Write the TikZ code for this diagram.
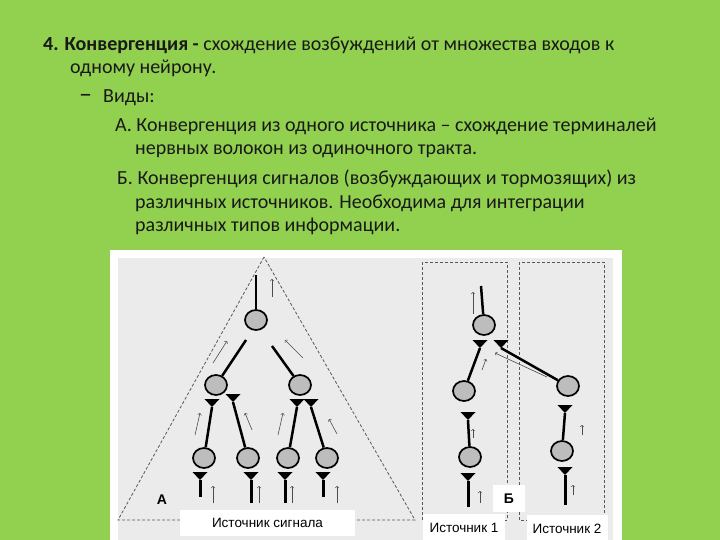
\documentclass[tikz,border=0pt]{standalone}
\usepackage{fontspec}
\setmainfont{Carlito}
\newfontfamily\labelfont{Liberation Sans}
\usepackage{tikz}
\usetikzlibrary{arrows,shapes.geometric}
\definecolor{slidegreen}{HTML}{92D050}
\definecolor{panelgray}{HTML}{EBEBEB}
\definecolor{cellgray}{HTML}{BDBDBD}
\tikzset{
  neuron/.style={ellipse, draw, line width=1.7pt, fill=cellgray, minimum width=22pt, minimum height=20pt, inner sep=0pt},
  fibre/.style={line width=2.5pt},
  stalk/.style={line width=3pt},
  sig/.style={->, line width=0.6pt, draw=black!70},
  zone/.style={densely dashed, line width=0.8pt, draw=black!65},
  src/.style={fill=white, font=\labelfont\fontsize{13.5}{15}\selectfont, inner sep=0pt},
  txt/.style={anchor=base west, inner sep=0pt, text=black!90, font=\fontsize{20}{24}\selectfont}
}
% terminal: apex at #2, base 8pt above
\newcommand{\synapse}[2]{\coordinate (#1) at (#2);
  \fill (#1) ++(-7.5,-8) -- ++(15,0) -- (#1) -- cycle;}

\begin{document}
\begin{tikzpicture}[x=1pt, y=-1pt]
		\fill[slidegreen] (0,0) rectangle (720,540);
		\useasboundingbox (0,0) rectangle (720,540);
		% slide text
		\node[txt](t1) at (43,51){\textbf{4. Конвергенция -} схождение возбуждений от множества входов к};
		\node[txt](t2) at (70,74){одному нейрону.};
		\node[txt, font=\fontsize{26}{24}\selectfont](t3) at (79,103){–};
		\node[txt](t4) at (103,103){Виды:};
		\node[txt](t5) at (115,132){А. Конвергенция из одного источника – схождение терминалей};
		\node[txt](t6) at (135,155){нервных волокон из одиночного тракта.};
		\node[txt](t7) at (117,185){Б. Конвергенция сигналов (возбуждающих и тормозящих) из};
		\node[txt](t8) at (135,208){различных источников. Необходима для интеграции};
		\node[txt](t9) at (135,232){различных типов информации.};
		% picture frame
		\fill[white] (110,250) rectangle (622,540);
		\fill[panelgray] (118,258) rectangle (613,540);
		\draw[zone] (264,257) -- (118,520) -- (415,520) -- cycle;
		\draw[zone] (422,262) rectangle (507,520);
		\draw[zone] (519,262) rectangle (604,520);
		% A: one source
		\node[neuron](a0) at (256,320){};
		\node[neuron](a1) at (216,385){};
		\node[neuron](a2) at (300,385){};
		\node[neuron](a3) at (204,458){};
		\node[neuron](a4) at (248,458){};
		\node[neuron](a5) at (288,458){};
		\node[neuron](a6) at (327,458){};
		\coordinate(a0out) at (256,275);
		\coordinate(a1end) at (246,340);
		\coordinate(a2end) at (272,346);
		\synapse{s1}{212,407}
		\synapse{s2}{233,402}
		\synapse{s3}{297,407}
		\synapse{s4}{311,407}
		\synapse{s5}{200,480}
		\synapse{s6}{251,480}
		\synapse{s7}{285,480}
		\synapse{s8}{323,480}
		\coordinate(i5) at (200,497);
		\coordinate(i6) at (251,503);
		\coordinate(i7) at (285,503);
		\coordinate(i8) at (323,497);
		\draw[fibre](a0) to (a0out);
		\draw[fibre](a1) to (a1end);
		\draw[fibre](a2) to (a2end);
		\draw[fibre](a3) to (s1);
		\draw[fibre](a4) to (s2);
		\draw[fibre](a5) to (s3);
		\draw[fibre](a6) to (s4);
		\draw[stalk](s5) to (i5);
		\draw[stalk](s6) to (i6);
		\draw[stalk](s7) to (i7);
		\draw[stalk](s8) to (i8);
		\draw[sig](272,297) -- (272,279);
		\draw[sig](213,363) -- (227,341);
		\draw[sig](303,358) -- (285,340);
		\draw[sig](195,435) -- (200,413);
		\draw[sig](252,430) -- (245,413);
		\draw[sig](278,435) -- (283,413);
		\draw[sig](337,434) -- (329,419);
		\draw[sig](213,503) -- (213,486);
		\draw[sig](259,503) -- (259,486);
		\draw[sig](292,503) -- (292,486);
		\draw[sig](337,503) -- (337,486);
		% B: different sources
		\node[neuron](b0) at (484,325){};
		\node[neuron](b1) at (464,391){};
		\node[neuron](b2) at (568,386){};
		\node[neuron](b3) at (470,457){};
		\node[neuron](b4) at (562,451){};
		\coordinate(b0out) at (481,286);
		\synapse{r1}{480,348}
		\synapse{r2}{501,348}
		\synapse{r3}{468,420}
		\synapse{r4}{468,481}
		\synapse{r5}{565,413}
		\synapse{r6}{565,475}
		\coordinate(j4) at (468,507);
		\coordinate(j6) at (565,505);
		\draw[fibre](b0) to (b0out);
		\draw[fibre](b1) to (r1);
		\draw[fibre](b2) to (r2);
		\draw[fibre](b3) to (r3);
		\draw[fibre](b4) to (r5);
		\draw[stalk](r4) to (j4);
		\draw[stalk](r6) to (j6);
		\draw[sig](473,314) -- (473,292);
		\draw[sig](482,370) -- (486,359);
		\draw[sig](547,377) -- (495,353);
		\draw[sig](473,438) -- (473,429);
		\draw[sig](480,503) -- (480,491);
		\draw[sig](582,435) -- (582,425);
		\draw[sig](573,495) -- (573,485);
		% labels
		\node[font=\labelfont\bfseries\fontsize{14}{16}\selectfont](lblA) at (162,500){А};
		\node[src, minimum width=175pt, minimum height=26pt, anchor=north](srcA) at (267.5,510){Источник сигнала};
		\node[src, minimum width=82pt, minimum height=28pt, anchor=north](src1) at (464,514){Источник 1};
		\node[src, minimum width=81pt, minimum height=27pt, anchor=north](src2) at (567,515){Источник 2};
		\node[src, font=\labelfont\bfseries\fontsize{14}{16}\selectfont, minimum width=32pt, minimum height=27pt](lblB) at (509,498.5){Б};
	\end{tikzpicture}
\end{document}
